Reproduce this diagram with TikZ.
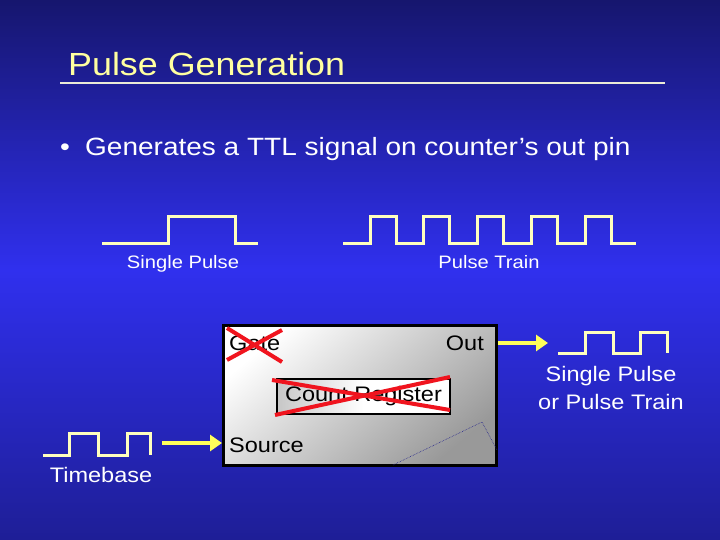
\documentclass[tikz,border=0pt]{standalone}
\usepackage{fontspec}
\setmainfont{Liberation Sans}[FakeStretch=1.12]
\usetikzlibrary{arrows.meta}

\definecolor{bgtop}{RGB}{22,22,110}
\definecolor{bgmid}{RGB}{48,48,238}
\definecolor{bgbot}{RGB}{30,30,150}
\definecolor{titleyellow}{RGB}{255,255,160}
\definecolor{wavecream}{RGB}{255,255,190}
\definecolor{rulecream}{RGB}{235,235,215}
\definecolor{arrowyellow}{RGB}{255,255,90}
\definecolor{crossred}{RGB}{240,20,30}
\definecolor{dotblue}{RGB}{40,40,140}

\tikzset{
  wave/.style={line width=3pt, color=wavecream},
  sigarrow/.style={line width=4.5pt, color=arrowyellow, -{Triangle[length=12pt,width=16pt]}},
  cross/.style={line width=4pt, color=crossred},
  lbl/.style={text=white, inner sep=0pt},
  pin/.style={text=black, inner sep=0pt, font=\fontsize{21}{25}\selectfont},
}

\begin{document}
\begin{tikzpicture}[x=1pt,y=-1pt]
        \useasboundingbox (0,0) rectangle (720,540);
        \shade [top color=bgtop, bottom color=bgbot, middle color=bgmid] (0,0) rectangle (720,540);
        % title
        \node [anchor=base west, inner sep=0pt, text=titleyellow, font=\fontsize{32}{38}\selectfont] (title) at (68,76) {Pulse Generation};
        \coordinate (rulestart) at (60,83);
        \coordinate (ruleend) at (665,83);
        \draw [line width=2pt, color=rulecream] (rulestart) -- (ruleend);
        \node [lbl, anchor=base west, font=\fontsize{25}{30}\selectfont] (bullet) at (60,156) {\textbullet};
        \node [lbl, anchor=base west, font=\fontsize{25}{30}\selectfont] (point) at (85,156) {Generates a TTL signal on counter’s out pin};
        % waveforms
        \draw [wave] (102,243) -- (168,243) -- (168,217) -- (235,217) -- (235,243) -- (258,243);
        \draw [wave] (343,243) foreach \x in {370,423,477,531,585} { -- (\x,243) -- (\x,217) -- (\x+26,217) -- (\x+26,243) } -- (636,243);
        \node [lbl, anchor=base, font=\fontsize{18}{22}\selectfont] (singlelbl) at (183,268) {Single Pulse};
        \node [lbl, anchor=base, font=\fontsize{18}{22}\selectfont] (trainlbl) at (489,268) {Pulse Train};
        % counter
        \node [draw=black, line width=3pt, minimum width=273pt, minimum height=140pt, inner sep=0pt,
               top color=white, bottom color=black!40, shading angle=40] (counter) at (360,395.5) {};
        \node [pin, anchor=base west] (gate) at (229,350) {Gate};
        \node [pin, anchor=base east] (out) at (484,350) {Out};
        \node [pin, anchor=base west] (source) at (229,452) {Source};
        \node [pin, draw=black, line width=2pt, minimum width=173pt, minimum height=35pt,
               left color=black!22, right color=white, middle color=white] (register) at (363.5,396.5) {Count Register};
        \draw [cross] (227,328) -- (282,362);
        \draw [cross] (227,360) -- (282,330);
        \draw [cross] (272,380) -- (450,410);
        \draw [cross] (275,415) -- (450,377);
        \draw [densely dotted, line width=0.6pt, color=dotblue] (393,465) -- (482,422) -- (497,450);
        % output
        \coordinate (outend) at (548,343);
        \draw [sigarrow] (counter.east |- outend) -- (outend);
        \draw [wave] (558,353) -- (585,353) -- (585,332) -- (613,332) -- (613,353) -- (640,353) -- (640,332) -- (667,332) -- (667,353);
        \node [lbl, anchor=base, font=\fontsize{21}{25}\selectfont] (outlbla) at (611,381) {Single Pulse};
        \node [lbl, anchor=base, font=\fontsize{21}{25}\selectfont] (outlblb) at (611,409) {or Pulse Train};
        % timebase
        \draw [wave] (43,455) -- (69,455) -- (69,433) -- (98,433) -- (98,455) -- (127,455) -- (127,433) -- (150,433) -- (150,455);
        \node [lbl, anchor=base, font=\fontsize{21}{25}\selectfont] (timebase) at (101,482) {Timebase};
        \coordinate (tbend) at (162,443);
        \draw [sigarrow] (tbend) -- (counter.west |- tbend);
    \end{tikzpicture}
\end{document}
